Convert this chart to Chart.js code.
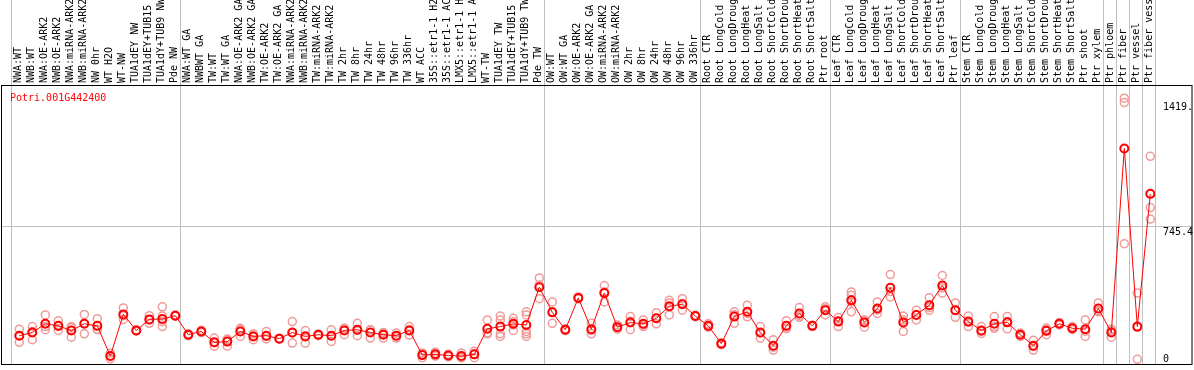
<!DOCTYPE html>
<html><head><meta charset="utf-8">
<script src="https://cdn.jsdelivr.net/npm/chart.js@4"></script>
<style>html,body{margin:0;padding:0;background:#fff;overflow:hidden}</style>
</head><body>
<canvas id="c" width="1194" height="370"></canvas>
<script>
const geneTitle = "Potri.001G442400";
const categories = [
 "NWA:WT","NWB:WT","NWA:OE-ARK2","NWB:OE-ARK2","NWA:miRNA-ARK2","NWB:miRNA-ARK2","NW 0hr","WT H2O","WT-NW","TUA1dEY NW","TUA1dEY+TUB15","TUA1dY+TUB9 NW","Pde NW",
 "NWA:WT GA","NWBWT GA","TW:WT","TW:WT GA","NWA:OE-ARK2 GA","NWB:OE-ARK2 GA","TW:OE-ARK2","TW:OE-ARK2 GA","NWA:miRNA-ARK2","NWB:miRNA-ARK2","TW:miRNA-ARK2","TW:miRNA-ARK2","TW 2hr","TW 8hr","TW 24hr","TW 48hr","TW 96hr","TW 336hr","WT ACC","35S::etr1-1 H2","35S::etr1-1 AC","LMX5::etr1-1 H","LMX5::etr1-1 A","WT-TW","TUA1dEY TW","TUA1dEY+TUB15","TUA1dY+TUB9 TW","Pde TW",
 "OW:WT","OW:WT GA","OW:OE-ARK2","OW:OE-ARK2 GA","OW:miRNA-ARK2","OW:miRNA-ARK2","OW 2hr","OW 8hr","OW 24hr","OW 48hr","OW 96hr","OW 336hr",
 "Root CTR","Root LongCold","Root LongDroug","Root LongHeat","Root LongSalt","Root ShortCold","Root ShortDrou","Root ShortHeat","Root ShortSalt","Ptr root",
 "Leaf CTR","Leaf LongCold","Leaf LongDroug","Leaf LongHeat","Leaf LongSalt","Leaf ShortCold","Leaf ShortDrou","Leaf ShortHeat","Leaf ShortSalt","Ptr leaf",
 "Stem CTR","Stem LongCold","Stem LongDroug","Stem LongHeat","Stem LongSalt","Stem ShortCold","Stem ShortDrou","Stem ShortHeat","Stem ShortSalt","Ptr shoot","Ptr xylem",
 "Ptr phloem","Ptr fiber","Ptr vessel","Ptr fiber vess"
];
// index of first category of each group (plus end)
const groupStarts = [0, 13, 41, 53, 63, 73, 84, 85, 86, 87, 88];
const means = [
 153,170,217,206,181,217,206,43,268,181,241,243,261,
 158,176,117,121,176,149,153,137,170,149,158,153,181,185,170,158,153,181,48,52,46,43,52,190,202,217,211,415,
 279,185,357,188,383,199,224,217,247,312,323,259,
 206,110,256,282,170,99,206,273,206,291,
 229,344,224,300,412,224,265,318,424,291,
 229,181,217,225,158,99,179,217,193,188,300,
 170,1164,202,919
];
const replicates = [
 [188,117,153],[202,131,176],[265,185,202],[233,181,204],[202,145,196],[268,163,220],[245,185,188],[43,28,58],[303,241,260],[181,178,184],[261,238,220],[309,259,229,202],[261,258,264],
 [160,152,163],[176,170,182],[140,96,115],[135,96,132],[193,149,186],[163,131,153],[176,135,148],[137,135,139],[229,113,168],[181,113,153],[160,153,161],[185,122,152],[193,158,192],[220,153,182],[185,140,185],[170,140,164],[167,140,152],[202,185,156],[60,34,50],[64,43,49],[52,39,47],[60,34,35],[69,34,53],[238,163,169],[259,163,149,237],[247,229,181,211],[282,265,176,163,149],[465,353,427],
 [335,220,282],[185,180,190],[357,352,362],[220,163,181],[424,335,390],[211,188,198],[256,185,231],[238,202,211],[277,217,247],[344,330,265,309],[353,291,325],[259,255,263],
 [217,199,202],[115,104,111],[282,220,266],[318,273,255],[202,140,168],[131,75,91],[234,193,191],[305,252,262],[206,203,209],[309,265,299],
 [234,202,251],[389,371,282,334],[238,199,235],[335,273,292],[483,362,391],[259,176,237],[291,238,266],[358,291,305],[478,383,411],[330,252,291],
 [259,202,226],[202,176,165],[256,193,202],[256,190,229],[167,149,158],[128,75,94],[185,158,194],[224,211,216],[202,190,187],[238,149,177],[330,282,288],
 [188,145,177],[1436,1412,650],[383,25,198],[1122,845,783]
];
const yAxisMax = 1490.8;
const yTickValues = [0, 745.4, 1419];
const yTickLabels = ["0", "745.4", "1419."];
const yGridValues = [745.4];

const MONO = '10px "DejaVu Sans Mono", monospace';
const MARK_SHIFT = 0.14; // markers sit slightly right of the column centre in the original

const framePlugin = {
  id: 'frame',
  beforeDraw(chart) {
    const c = chart.ctx;
    c.save(); c.fillStyle = '#fff'; c.fillRect(0, 0, chart.width, chart.height); c.restore();
  },
  beforeDatasetsDraw(chart) {
    const c = chart.ctx, a = chart.chartArea, ys = chart.scales.y;
    c.save();
    c.strokeStyle = '#c0c0c0'; c.lineWidth = 1;
    yGridValues.forEach(v => {
      const p = Math.round(ys.getPixelForValue(v)) + 0.5;
      c.beginPath(); c.moveTo(2, p); c.lineTo(a.left, p); c.stroke();
    });
    c.restore();
  },
  afterDraw(chart) {
    const c = chart.ctx, a = chart.chartArea, ys = chart.scales.y;
    c.save();
    c.strokeStyle = '#000'; c.lineWidth = 1;
    c.strokeRect(1.5, a.top - 2.5, chart.width - 2.5 - 1, a.bottom - a.top + 3);
    c.font = MONO; c.fillStyle = '#ff0000'; c.textAlign = 'left'; c.textBaseline = 'alphabetic';
    c.fillText(geneTitle, 10, a.top + 13);
    c.fillStyle = '#000';
    yTickValues.forEach((v, k) => {
      const p = ys.getPixelForValue(v);
      const base = v === 0 ? p - 2.5 : p + 8.5;
      c.fillText(yTickLabels[k], a.right + 8, base);
    });
    c.restore();
  }
};

new Chart(document.getElementById('c'), {
  type: 'line',
  data: {
    labels: categories,
    datasets: [
      {
        label: 'mean',
        xAxisID: 'xr',
        data: means.map((v, i) => ({x: i, y: v})),
        borderColor: '#ff0000',
        borderWidth: 1,
        pointStyle: 'circle',
        pointRadius: 4,
        pointBorderWidth: 2,
        pointBorderColor: '#ff0000',
        pointBackgroundColor: 'rgba(0,0,0,0)',
        fill: false,
        tension: 0
      },
      {
        label: 'replicates',
        xAxisID: 'xr',
        data: replicates.flatMap((arr, i) => arr.map(v => ({x: i, y: v}))),
        showLine: false,
        pointStyle: 'circle',
        pointRadius: 4,
        pointBorderWidth: 1.5,
        pointBorderColor: '#f09a9a',
        pointBackgroundColor: 'rgba(0,0,0,0)'
      }
    ]
  },
  options: {
    responsive: false,
    animation: false,
    devicePixelRatio: 1,
    layout: {padding: {left: 11, right: 0, top: 0, bottom: 2}},
    plugins: {legend: {display: false}, tooltip: {enabled: false}},
    scales: {
      x: {
        type: 'category',
        position: 'top',
        offset: true,
        grid: {
          offset: true,
          drawTicks: true,
          tickLength: 88,
          lineWidth: 1,
          color: (ctx) => {
            const idx = (ctx.type === 'tick') ? ctx.index : categories.length;
            return groupStarts.includes(idx) ? '#c0c0c0' : 'rgba(0,0,0,0)';
          }
        },
        border: {display: false},
        ticks: {
          autoSkip: false,
          minRotation: 90,
          maxRotation: 90,
          padding: -83,
          labelOffset: 13,
          color: '#000',
          font: {family: '"DejaVu Sans Mono", monospace', size: 10}
        },
        afterFit(scale) { scale.height = 88; }
      },
      xr: {
        type: 'linear',
        display: false,
        min: -0.5 - MARK_SHIFT,
        max: categories.length - 0.5 - MARK_SHIFT
      },
      y: {
        position: 'right',
        min: 0,
        max: yAxisMax,
        afterBuildTicks(scale) { scale.ticks = yGridValues.map(v => ({value: v})); },
        grid: {color: '#c0c0c0', drawTicks: true, tickLength: 38, lineWidth: 1},
        border: {display: false},
        ticks: {display: false},
        afterFit(scale) { scale.width = 39; }
      }
    }
  },
  plugins: [framePlugin]
});
</script>
</body></html>
